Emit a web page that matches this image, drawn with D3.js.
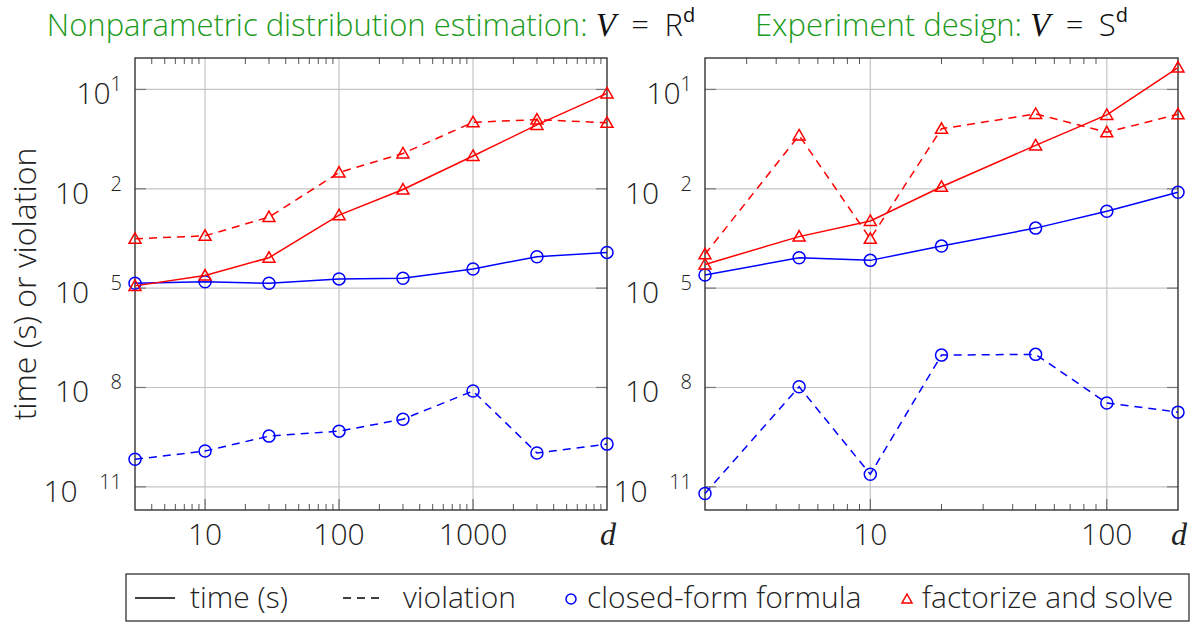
<!DOCTYPE html>
<html>
<head>
<meta charset="utf-8">
<script src="https://cdn.jsdelivr.net/npm/d3@7"></script>
<style>
  body { margin: 0; background: #fff; }
  svg { display: block; }
  text { font-family: "Open Sans", Roboto, sans-serif; font-weight: 300; }
</style>
</head>
<body>
<div id="chart"></div>
<script>
// left panel: nonparametric distribution estimation
const leftD = [3, 10, 30, 100, 300, 1000, 3000, 10000];
const leftClosedTime = [1.4e-5, 1.55e-5, 1.4e-5, 1.9e-5, 2.0e-5, 3.8e-5, 8.9e-5, 1.2e-4];
const leftClosedViol = [6.8e-11, 1.2e-10, 3.4e-10, 4.8e-10, 1.1e-9, 7.8e-9, 1.05e-10, 1.95e-10];
const leftFactTime = [1.17e-5, 2.4e-5, 8.3e-5, 1.6e-3, 9.5e-3, 0.098, 0.85, 7.6];
const leftFactViol = [3.1e-4, 3.8e-4, 1.4e-3, 0.031, 0.117, 1.02, 1.23, 0.98];
const leftXTicks = [10, 100, 1000];

// right panel: experiment design
const rightD = [2, 5, 10, 20, 50, 100, 200];
const rightClosedTime = [2.5e-5, 8.3e-5, 6.9e-5, 1.86e-4, 6.5e-4, 2.1e-3, 7.9e-3];
const rightClosedViol = [6.3e-12, 1.05e-8, 2.4e-11, 9.5e-8, 1.0e-7, 3.4e-9, 1.8e-9];
const rightFactTime = [5.2e-5, 3.6e-4, 1.07e-3, 0.0115, 0.204, 1.7, 45.7];
const rightFactViol = [1.05e-4, 0.41, 3.1e-4, 0.65, 1.82, 0.51, 1.78];
const rightXTicks = [10, 100];

const yTickExps = [1, -2, -5, -8, -11];
const legendItems = ["time (s)", "violation", "closed-form formula", "factorize and solve"];

const W = 1194, H = 624;
const svg = d3.select("#chart").append("svg").attr("width", W).attr("height", H);

const plotTop = 58, plotH = 452;
const y = d3.scaleLog().domain([Math.pow(10, -11.7), Math.pow(10, 1.95)]).range([plotH, 0]);

const serif = "'Liberation Serif', 'DejaVu Serif', serif";

function panel(opts) {
  const {left, width, xDomain, xs, series, xTicks, title} = opts;
  const x = d3.scaleLog().domain(xDomain).range([0, width]);
  const g = svg.append("g").attr("transform", `translate(${left},${plotTop})`);

  // grid
  g.selectAll(".gx").data(xTicks).enter().append("line")
    .attr("x1", d => x(d)).attr("x2", d => x(d))
    .attr("y1", 0).attr("y2", plotH)
    .attr("stroke", "#c4c4c4").attr("stroke-width", 1.2);
  g.selectAll(".gy").data(yTickExps).enter().append("line")
    .attr("x1", 0).attr("x2", width)
    .attr("y1", d => y(Math.pow(10, d))).attr("y2", d => y(Math.pow(10, d)))
    .attr("stroke", "#c4c4c4").attr("stroke-width", 1.2);

  // minor x ticks (top and bottom, inward)
  const minor = [];
  const lo = Math.floor(Math.log10(xDomain[0])), hi = Math.ceil(Math.log10(xDomain[1]));
  for (let e = lo; e < hi; e++) {
    for (let m = 2; m <= 9; m++) {
      const v = m * Math.pow(10, e);
      if (v > xDomain[0] && v < xDomain[1]) minor.push(v);
    }
  }
  g.selectAll(".mb").data(minor).enter().append("line")
    .attr("x1", d => x(d)).attr("x2", d => x(d))
    .attr("y1", plotH).attr("y2", plotH - 6)
    .attr("stroke", "#555").attr("stroke-width", 1);
  g.selectAll(".mt").data(minor).enter().append("line")
    .attr("x1", d => x(d)).attr("x2", d => x(d))
    .attr("y1", 0).attr("y2", 6)
    .attr("stroke", "#555").attr("stroke-width", 1);
  // major x ticks
  g.selectAll(".Mb").data(xTicks).enter().append("line")
    .attr("x1", d => x(d)).attr("x2", d => x(d))
    .attr("y1", plotH).attr("y2", plotH - 11)
    .attr("stroke", "#555").attr("stroke-width", 1);
  // major y ticks both sides
  yTickExps.forEach(e => {
    const yy = y(Math.pow(10, e));
    g.append("line").attr("x1", 0).attr("x2", 11).attr("y1", yy).attr("y2", yy)
      .attr("stroke", "#777").attr("stroke-width", 1.2);
    g.append("line").attr("x1", width - 11).attr("x2", width).attr("y1", yy).attr("y2", yy)
      .attr("stroke", "#777").attr("stroke-width", 1.2);
  });

  // frame
  g.append("rect").attr("x", 0).attr("y", 0).attr("width", width).attr("height", plotH)
    .attr("fill", "none").attr("stroke", "#333").attr("stroke-width", 1.4);

  // x tick labels
  g.selectAll(".xl").data(xTicks).enter().append("text")
    .attr("x", d => x(d)).attr("y", plotH + 35)
    .attr("text-anchor", "middle").attr("font-size", 30).attr("fill", "#222")
    .text(d => d);
  g.append("text").attr("x", width + 1).attr("y", plotH + 35)
    .attr("text-anchor", "middle")
    .style("font-family", serif).style("font-style", "italic").style("font-weight", 400)
    .attr("font-size", 32).attr("fill", "#222").text("d");

  // y tick labels
  yTickExps.forEach(e => {
    const yy = y(Math.pow(10, e));
    const t = g.append("text").attr("x", -13).attr("y", yy + 15)
      .attr("text-anchor", "end").attr("font-size", 30).attr("fill", "#222");
    t.append("tspan").text("10");
    if (e < 0) {
      t.append("tspan").attr("dy", -13).attr("font-size", 20).attr("fill-opacity", 0).attr("dx", 7).text("\u2212");
      t.append("tspan").attr("font-size", 20).attr("dx", 3).text(String(-e));
    } else {
      t.append("tspan").attr("dy", -13).attr("font-size", 20).text(String(e));
    }
  });

  // series
  const line = d3.line().x(d => x(d[0])).y(d => y(d[1]));
  series.forEach(s => {
    const pts = xs.map((d, i) => [d, s.values[i]]);
    g.append("path").datum(pts).attr("d", line)
      .attr("fill", "none").attr("stroke", s.color).attr("stroke-width", 1.5)
      .attr("stroke-dasharray", s.dashed ? "8,6" : null);
    if (s.marker === "circle") {
      g.selectAll(null).data(pts).enter().append("circle")
        .attr("cx", d => x(d[0])).attr("cy", d => y(d[1])).attr("r", 6)
        .attr("fill", "none").attr("stroke", s.color).attr("stroke-width", 1.5);
    } else {
      g.selectAll(null).data(pts).enter().append("path")
        .attr("d", "M0,-6L6,4.5L-6,4.5Z")
        .attr("transform", d => `translate(${x(d[0])},${y(d[1])})`)
        .attr("fill", "none").attr("stroke", s.color).attr("stroke-width", 1.5);
    }
  });

  // title
  const tt = svg.append("text").attr("x", left + width / 2).attr("y", 36)
    .attr("text-anchor", "middle").attr("font-size", 31);
  tt.append("tspan").attr("fill", "#1a9a1a").text(title[0] + " ");
  tt.append("tspan").style("font-family", serif).style("font-style", "italic")
    .style("font-weight", 400).attr("font-size", 33).attr("fill", "#111").text("V");
  tt.append("tspan").attr("fill", "#111").text("\u2002=\u2002" + title[1]);
  tt.append("tspan").attr("fill", "#111").attr("font-size", 20).attr("dy", -14).attr("font-weight", 400).text("d");
}

panel({
  left: 135, width: 472, xDomain: [3, 10000], xs: leftD, xTicks: leftXTicks,
  title: ["Nonparametric distribution estimation:", "R"],
  series: [
    {values: leftClosedTime, color: "#0000ff", marker: "circle", dashed: false},
    {values: leftClosedViol, color: "#0000ff", marker: "circle", dashed: true},
    {values: leftFactTime, color: "#ff0000", marker: "tri", dashed: false},
    {values: leftFactViol, color: "#ff0000", marker: "tri", dashed: true}
  ]
});
panel({
  left: 705, width: 473, xDomain: [2, 200], xs: rightD, xTicks: rightXTicks,
  title: ["Experiment design:", "S"],
  series: [
    {values: rightClosedTime, color: "#0000ff", marker: "circle", dashed: false},
    {values: rightClosedViol, color: "#0000ff", marker: "circle", dashed: true},
    {values: rightFactTime, color: "#ff0000", marker: "tri", dashed: false},
    {values: rightFactViol, color: "#ff0000", marker: "tri", dashed: true}
  ]
});

// y axis title
svg.append("text").attr("transform", "translate(36,284) rotate(-90)")
  .attr("text-anchor", "middle").attr("font-size", 32).attr("fill", "#222")
  .text("time (s) or violation");

// legend
const lg = svg.append("g").attr("transform", "translate(126,574)");
lg.append("rect").attr("width", 1063).attr("height", 47)
  .attr("fill", "#fff").attr("stroke", "#222").attr("stroke-width", 1.2);
const ly = 24;
lg.append("line").attr("x1", 9).attr("x2", 49).attr("y1", ly).attr("y2", ly)
  .attr("stroke", "#000").attr("stroke-width", 1.5);
lg.append("line").attr("x1", 217).attr("x2", 257).attr("y1", ly).attr("y2", ly)
  .attr("stroke", "#000").attr("stroke-width", 1.5).attr("stroke-dasharray", "8,6");
lg.append("circle").attr("cx", 445).attr("cy", ly + 1).attr("r", 5)
  .attr("fill", "none").attr("stroke", "#0000ff").attr("stroke-width", 1.5);
lg.append("path").attr("d", "M0,-5L5,4L-5,4Z").attr("transform", `translate(781,${ly + 1})`)
  .attr("fill", "none").attr("stroke", "#ff0000").attr("stroke-width", 1.5);
const lx = [64, 277, 461, 796];
lg.selectAll(".lt").data(legendItems).enter().append("text")
  .attr("x", (d, i) => lx[i]).attr("y", ly + 10).attr("font-size", 30).attr("fill", "#222")
  .text(d => d);
</script>
</body>
</html>
